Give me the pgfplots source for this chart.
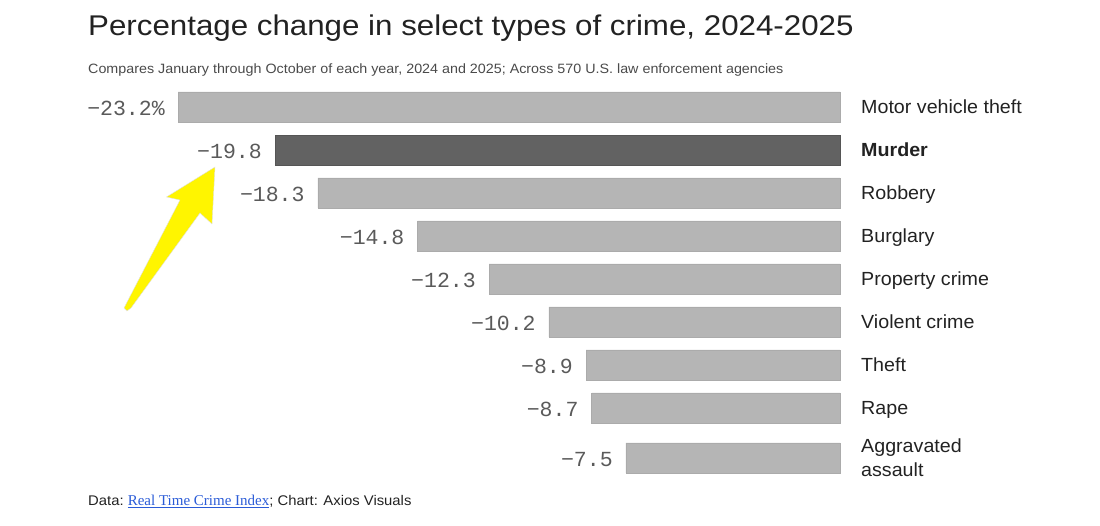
\documentclass[border=0pt]{standalone}
\usepackage{fontspec}
\setmainfont{Liberation Sans}
\newfontfamily\monofont{Liberation Mono}
\newfontfamily\seriffont{Liberation Serif}
\newfontfamily\titlefont[FakeStretch=1.098]{Liberation Sans}
\newfontfamily\subfont[FakeStretch=1.06]{Liberation Sans}
\newfontfamily\catfont[FakeStretch=1.035]{Liberation Sans}
\newfontfamily\catboldfont[FakeStretch=1.035]{Liberation Sans Bold}
\usepackage{pgfplots}
\usepackage{pgfplotstable}
\pgfplotsset{compat=1.18}
\definecolor{barlight}{HTML}{B5B5B5}
\definecolor{barlightedge}{HTML}{ABABAB}
\definecolor{bardark}{HTML}{626262}
\definecolor{bardarkedge}{HTML}{555555}
\definecolor{txt}{HTML}{222222}
\definecolor{subtxt}{HTML}{4A4A4A}
\definecolor{valtxt}{HTML}{5A5A5A}
\definecolor{linkblue}{HTML}{2A5BD7}
\definecolor{arrowyellow}{HTML}{FFF500}
\pgfplotstableread{
y x lab
107 -23.2 {−23.2\%}
193 -18.3 {−18.3}
236 -14.8 {−14.8}
279 -12.3 {−12.3}
322 -10.2 {−10.2}
365 -8.9 {−8.9}
408 -8.7 {−8.7}
458 -7.5 {−7.5}
}\datalight
\pgfplotstableread{
y x lab
150 -19.8 {−19.8}
}\datadark
\begin{document}
\begin{tikzpicture}[x=1pt,y=1pt]
\useasboundingbox (0,0) rectangle (1100,526);
% title and subtitle
\node[anchor=base west, inner sep=0, text=txt, font=\titlefont\fontsize{28.5}{28.5}\selectfont] at (88,490) {Percentage change in select types of crime, 2024-2025};
\node[anchor=base west, inner sep=0, text=subtxt, font=\subfont\fontsize{13.5}{13.5}\selectfont] at (88,452) {Compares January through October of each year, 2024 and 2025; Across 570 U.S. law enforcement agencies};
\begin{axis}[
  at={(178pt,446pt)}, anchor=north west,
  scale only axis, width=662pt, height=400pt,
  xmin=-23.2, xmax=0, ymin=80, ymax=480, y dir=reverse,
  hide axis, clip=false,
  xbar, bar width=30pt, bar shift=0pt,
  nodes near coords, point meta=explicit symbolic,
  every node near coord/.append style={anchor=east, inner sep=0pt, xshift=-13pt, yshift=-1.5pt, text=valtxt, font=\monofont\fontsize{21.5}{21.5}\selectfont},
]
\addplot[fill=barlight, draw=barlightedge, line width=0.6pt] table[x=x, y=y, meta=lab] {\datalight};
\addplot[fill=bardark, draw=bardarkedge, line width=0.6pt] table[x=x, y=y, meta=lab] {\datadark};
\begin{scope}[every node/.style={anchor=base west, inner sep=0pt, text=txt, font=\catfont\fontsize{19}{19}\selectfont, xshift=21pt, yshift=-6.5pt}]
\node at (axis cs:0,107) {Motor vehicle theft};
\node[font=\catboldfont\fontsize{19}{19}\selectfont] at (axis cs:0,150) {Murder};
\node at (axis cs:0,193) {Robbery};
\node at (axis cs:0,236) {Burglary};
\node at (axis cs:0,279) {Property crime};
\node at (axis cs:0,322) {Violent crime};
\node at (axis cs:0,365) {Theft};
\node at (axis cs:0,408) {Rape};
\node at (axis cs:0,446.5) {Aggravated};
\node at (axis cs:0,470.5) {assault};
\end{scope}
\end{axis}
% annotation arrow
\fill[arrowyellow, draw=black!12, line width=0.4pt]
  (215,359) -- (212,302) -- (200,313) -- (131,218) -- (127,215) -- (124,218) -- (180,326) -- (166.5,329) -- cycle;
% footer
\node[anchor=base west, inner sep=0, text=txt, font=\subfont\fontsize{14}{14}\selectfont] at (88,20) {Data:\ {\seriffont\fontsize{15}{15}\selectfont\color{linkblue}\underline{Real Time Crime Index}}; Chart: Axios Visuals};
\end{tikzpicture}
\end{document}
